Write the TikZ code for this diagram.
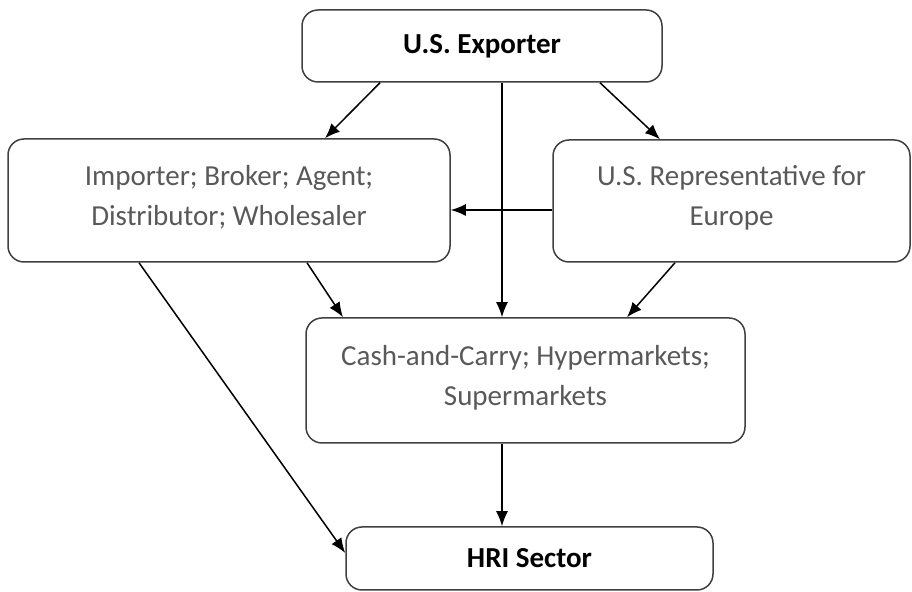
\documentclass[tikz,border=0pt]{standalone}
\usepackage{fontspec}
\setmainfont{Carlito}
\usepackage{xcolor}
\usepackage{tikz}
\usetikzlibrary{positioning,arrows.meta}
\definecolor{boxline}{HTML}{404040}
\definecolor{boxtext}{HTML}{595959}

\begin{document}
\begin{tikzpicture}[
    box/.style={draw=boxline, line width=0.75pt, rounded corners=8pt, align=center, inner sep=0pt,
                font=\fontsize{14.5pt}{20pt}\selectfont, text=boxtext},
    headbox/.style={box, font=\fontsize{14.5pt}{20pt}\selectfont\bfseries, text=black},
    arrow/.style={-{Latex[length=7.5pt,width=6pt]}, line width=0.75pt}
]
\useasboundingbox (0,0) rectangle (456pt,-296pt);

\node[headbox, minimum width=180pt, minimum height=36pt] (exporter) at (241pt,-23pt) {U.S. Exporter};
\node[box, minimum width=221pt, minimum height=61.5pt] (importer) at (114.5pt,-100.25pt)
    {Importer; Broker; Agent;\\Distributor; Wholesaler\\[-14.5pt]};
\node[box, minimum width=178.5pt, minimum height=61pt] (rep) at (365.75pt,-100.5pt)
    {U.S. Representative for\\Europe\\[-14.5pt]};
\node[box, minimum width=219.5pt, minimum height=62.5pt] (cash) at (262.75pt,-190.25pt)
    {Cash-and-Carry; Hypermarkets;\\Supermarkets\\[-14.5pt]};
\node[headbox, minimum width=183.5pt, minimum height=31.5pt] (hri) at (264.75pt,-279.25pt) {HRI Sector};

\draw[arrow] ([xshift=-51pt]exporter.south) -- ([xshift=48pt]importer.north);
\draw[arrow] ([xshift=59pt]exporter.south) -- ([xshift=-35.75pt]rep.north);
\draw[arrow] ([xshift=10pt]exporter.south) -- ([xshift=10pt]exporter.south |- cash.north);
\draw[arrow] ([yshift=-4.5pt]rep.west) -- ([yshift=-4.5pt]rep.west -| importer.east);
\draw[arrow] ([xshift=39pt]importer.south) -- ([xshift=-91.25pt]cash.north);
\draw[arrow] ([xshift=-28.25pt]rep.south) -- ([xshift=50.75pt]cash.north);
\draw[arrow] ([xshift=-45pt]importer.south) -- ([yshift=2.75pt]hri.west);
\draw[arrow] ([xshift=-11.75pt]cash.south) -- ([xshift=-11.75pt]cash.south |- hri.north);

\end{tikzpicture}
\end{document}
